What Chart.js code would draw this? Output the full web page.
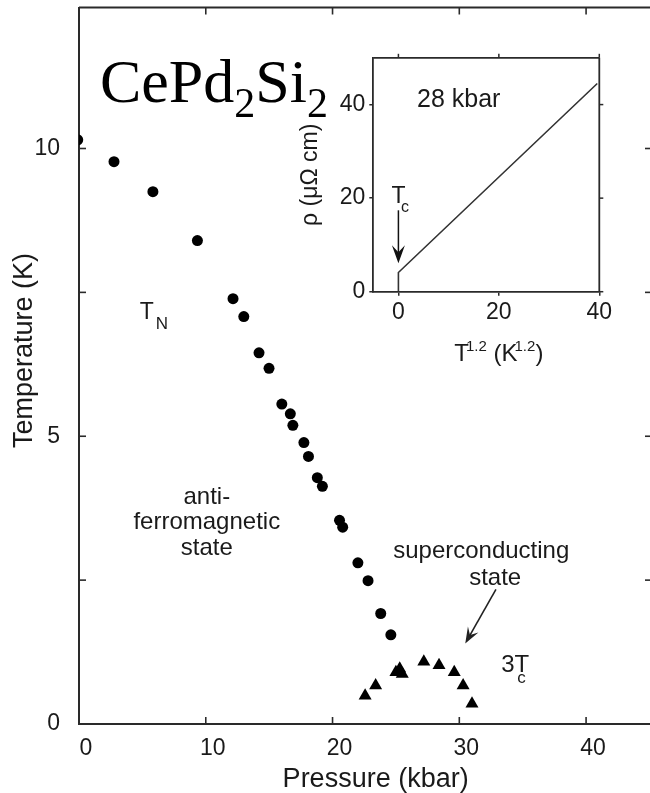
<!DOCTYPE html>
<html>
<head>
<meta charset="utf-8">
<script src="https://cdn.jsdelivr.net/npm/chart.js@4.4.0/dist/chart.umd.min.js"></script>
<style>
  html, body { margin: 0; padding: 0; background: #fff; overflow: hidden; }
  #wrap { position: relative; width: 650px; height: 793px; overflow: hidden; }
  #main { position: absolute; left: 0; top: 0; }
  #inset { position: absolute; left: 290px; top: 40px; }
</style>
</head>
<body>
<div id="wrap">
  <canvas id="main" width="660" height="793"></canvas>
  <canvas id="inset" width="330" height="340"></canvas>
</div>
<script>
// T_N (antiferromagnetic transition), circles
const pressureN = [-0.1, 2.76, 5.83, 9.34, 12.15, 13.0, 14.2, 14.99, 16.0, 16.67, 16.87, 17.74,
                   18.1, 18.8, 19.2, 20.55, 20.8, 22.0, 22.8, 23.8, 24.6];
const tempN = [10.15, 9.77, 9.25, 8.40, 7.39, 7.08, 6.45, 6.18, 5.56, 5.39, 5.19, 4.89,
               4.65, 4.28, 4.13, 3.54, 3.42, 2.80, 2.49, 1.92, 1.55];
// 3 x Tc (superconducting), triangles
const pressureSC = [22.57, 23.4, 25.0, 25.3, 25.5, 27.2, 28.4, 29.6, 30.3, 31.0];
const temp3Tc = [0.49, 0.67, 0.90, 0.96, 0.87, 1.08, 1.02, 0.90, 0.67, 0.35];
// inset: resistivity vs T^1.2 at 28 kbar
const insetT12 = [0, 0, 39.6];
const insetRho = [0, 4.1, 44.5];

const xTicks = [0, 10, 20, 30, 40];
const xTickLabels = ['0', '10', '20', '30', '40'];
const yTicks = [0, 2.5, 5, 7.5, 10];
const yTickLabels = ['0', '', '5', '', '10'];
const insetXTicks = [0, 20, 40];
const insetYTicks = [0, 20, 40];

const INK = '#1a1a1a';
const AXIS = '#2a2a2a';
const sans = '"Liberation Sans", Arial, Helvetica, sans-serif';
const serif = '"Liberation Serif", "Times New Roman", serif';

function line(ctx, x1, y1, x2, y2) {
  ctx.beginPath(); ctx.moveTo(x1, y1); ctx.lineTo(x2, y2); ctx.stroke();
}

// draw a row of text pieces (for sub/superscripts)
function runs(ctx, x, y, parts, align) {
  let total = 0;
  parts.forEach(p => { ctx.font = p.size + 'px ' + (p.family || sans); total += ctx.measureText(p.t).width + (p.kern || 0); });
  let cx = align === 'center' ? x - total / 2 : x;
  ctx.textBaseline = 'alphabetic';
  ctx.textAlign = 'left';
  parts.forEach(p => {
    ctx.font = p.size + 'px ' + (p.family || sans);
    cx += (p.kern || 0);
    ctx.fillText(p.t, cx, y + (p.dy || 0));
    cx += ctx.measureText(p.t).width;
  });
}

function arrow(ctx, x1, y1, x2, y2, len, half) {
  const a = Math.atan2(y2 - y1, x2 - x1);
  line(ctx, x1, y1, x2 - Math.cos(a) * len * 0.6, y2 - Math.sin(a) * len * 0.6);
  ctx.save();
  ctx.translate(x2, y2); ctx.rotate(a);
  ctx.beginPath();
  ctx.moveTo(0, 0); ctx.lineTo(-len, -half); ctx.lineTo(-len * 0.6, 0); ctx.lineTo(-len, half);
  ctx.closePath(); ctx.fill();
  ctx.restore();
}

const mainDecor = {
  id: 'mainDecor',
  afterDraw(chart) {
    const { ctx, chartArea: a, scales: { x, y } } = chart;
    const px = v => x.getPixelForValue(v), py = v => y.getPixelForValue(v);
    ctx.save();
    ctx.strokeStyle = AXIS;
    ctx.lineWidth = 2;
    line(ctx, a.left, a.top, a.right, a.top);
    line(ctx, a.right, a.top, a.right, a.bottom);
    ctx.lineWidth = 1.6;
    xTicks.forEach(v => {
      if (v === 0) return;
      line(ctx, px(v), a.bottom, px(v), a.bottom - 7);
      line(ctx, px(v), a.top, px(v), a.top + 7);
    });
    yTicks.forEach(v => {
      if (v === 0) return;
      line(ctx, a.left, py(v), a.left + 7, py(v));
      line(ctx, a.right, py(v), a.right - 7, py(v));
    });

    // axis titles
    ctx.fillStyle = INK;
    ctx.font = '27px ' + sans;
    ctx.textAlign = 'center';
    ctx.textBaseline = 'alphabetic';
    ctx.fillText('Pressure (kbar)', px(23.4), a.bottom + 63);
    ctx.save();
    ctx.translate(a.left - 54, py(6.49));
    ctx.rotate(-Math.PI / 2);
    ctx.textBaseline = 'middle';
    ctx.fillText('Temperature (K)', 0, 0);
    ctx.restore();

    ctx.fillStyle = '#000';
    runs(ctx, px(1.65), py(10.81), [
      { t: 'CePd', size: 62, family: serif },
      { t: '2', size: 42, family: serif, dy: 15 },
      { t: 'Si', size: 62, family: serif },
      { t: '2', size: 42, family: serif, dy: 15 }
    ]);

    ctx.fillStyle = INK;
    runs(ctx, px(4.8), py(7.04), [{ t: 'T', size: 23 }]);
    runs(ctx, px(6.06), py(6.87), [{ t: 'N', size: 17 }]);

    ctx.font = '24px ' + sans;
    ctx.textAlign = 'center';
    ctx.textBaseline = 'alphabetic';
    ctx.fillText('anti-', px(10.08), py(3.83));
    ctx.fillText('ferromagnetic', px(10.08), py(3.38));
    ctx.fillText('state', px(10.08), py(2.93));
    ctx.fillText('superconducting', px(31.73), py(2.89));
    ctx.fillText('state', px(32.83), py(2.41));

    runs(ctx, px(33.31), py(0.90), [{ t: '3T', size: 24 }]);
    runs(ctx, px(34.57), py(0.72), [{ t: 'c', size: 17 }]);

    ctx.strokeStyle = '#222';
    ctx.fillStyle = '#222';
    ctx.lineWidth = 1.6;
    arrow(ctx, px(32.89), py(2.34), px(30.47), py(1.40), 16, 6);
    ctx.restore();
  }
};

new Chart(document.getElementById('main'), {
  type: 'scatter',
  data: {
    datasets: [
      {
        data: pressureN.map((p, i) => ({ x: p, y: tempN[i] })),
        pointStyle: 'circle', pointRadius: 5.5, backgroundColor: '#000', borderWidth: 0
      },
      {
        data: pressureSC.map((p, i) => ({ x: p, y: temp3Tc[i] })),
        pointStyle: 'triangle', pointRadius: 7.5, backgroundColor: '#000', borderWidth: 0
      }
    ]
  },
  options: {
    responsive: false,
    animation: false,
    events: [],
    layout: { padding: { top: 7, right: 8, left: 0, bottom: 0 } },
    plugins: { legend: { display: false }, tooltip: { enabled: false } },
    scales: {
      x: {
        type: 'linear', min: 0, max: 45.2,
        afterBuildTicks: s => { s.ticks = xTicks.map(v => ({ value: v })); },
        afterFit: s => { s.height = 69; s.paddingLeft = 0; s.paddingRight = 0; },
        grid: { display: false },
        border: { color: AXIS, width: 2 },
        ticks: {
          callback: (v, i) => xTickLabels[i], color: INK, padding: 3, labelOffset: 7,
          maxRotation: 0, autoSkip: false, font: { family: sans, size: 23 }
        }
      },
      y: {
        type: 'linear', min: 0, max: 12.45,
        afterBuildTicks: s => { s.ticks = yTicks.map(v => ({ value: v })); },
        afterFit: s => { s.width = 79; s.paddingTop = 0; s.paddingBottom = 0; },
        grid: { display: false },
        border: { color: AXIS, width: 2 },
        ticks: {
          callback: (v, i) => yTickLabels[i], color: INK, padding: 11, autoSkip: false,
          font: { family: sans, size: 23 }
        }
      }
    }
  },
  plugins: [mainDecor]
});

const insetDecor = {
  id: 'insetDecor',
  afterDraw(chart) {
    const { ctx, chartArea: a, scales: { x, y } } = chart;
    const px = v => x.getPixelForValue(v), py = v => y.getPixelForValue(v);
    ctx.save();
    ctx.strokeStyle = AXIS;
    ctx.lineWidth = 1.8;
    line(ctx, a.left, a.top, a.right, a.top);
    line(ctx, a.right, a.top, a.right, a.bottom);
    ctx.lineWidth = 1.5;
    insetXTicks.forEach(v => line(ctx, px(v), a.top, px(v), a.top - 4));
    insetYTicks.forEach(v => line(ctx, a.right, py(v), a.right + 4, py(v)));

    ctx.fillStyle = INK;
    runs(ctx, px(3.7), py(39.4), [{ t: '28 kbar', size: 25 }]);
    runs(ctx, px(0), py(18.9), [{ t: 'T', size: 23 }], 'center');
    runs(ctx, px(0.5), py(17.0), [{ t: 'c', size: 16 }]);
    runs(ctx, px(20), py(-14.9), [
      { t: 'T', size: 24 },
      { t: '1.2', size: 15, dy: -10, kern: -3 },
      { t: ' (K', size: 24 },
      { t: '1.2', size: 15, dy: -10, kern: -3 },
      { t: ')', size: 24 }
    ], 'center');

    ctx.strokeStyle = '#111';
    ctx.fillStyle = '#111';
    ctx.lineWidth = 1.5;
    arrow(ctx, px(0), py(17.4), px(0), py(6.1), 18, 6.5);
    ctx.restore();
  }
};

new Chart(document.getElementById('inset'), {
  type: 'scatter',
  data: {
    datasets: [{
      data: insetT12.map((t, i) => ({ x: t, y: insetRho[i] })),
      showLine: true, borderColor: '#333', borderWidth: 1.6, pointRadius: 0, fill: false
    }]
  },
  options: {
    responsive: false,
    animation: false,
    events: [],
    layout: { padding: { top: 16.7, right: 20.7, left: 0, bottom: 0 } },
    plugins: { legend: { display: false }, tooltip: { enabled: false } },
    scales: {
      x: {
        type: 'linear', min: -5, max: 40,
        afterBuildTicks: s => { s.ticks = insetXTicks.map(v => ({ value: v })); },
        afterFit: s => { s.height = 88.3; },
        grid: { display: true, drawOnChartArea: false, drawTicks: true, tickLength: 4, color: AXIS, lineWidth: 1.5 },
        border: { color: AXIS, width: 1.8 },
        ticks: { color: INK, padding: 3, maxRotation: 0, autoSkip: false, font: { family: sans, size: 23 } }
      },
      y: {
        type: 'linear', min: 0, max: 50,
        afterBuildTicks: s => { s.ticks = insetYTicks.map(v => ({ value: v })); },
        afterFit: s => { s.width = 83.3; },
        grid: { display: true, drawOnChartArea: false, drawTicks: true, tickLength: 4, color: AXIS, lineWidth: 1.5 },
        border: { color: AXIS, width: 1.8 },
        ticks: { color: INK, padding: 4, autoSkip: false, font: { family: sans, size: 23 } },
        title: { display: true, text: 'ρ (μΩ cm)', color: INK, padding: { top: 6.6, bottom: 0 }, font: { family: sans, size: 23 } }
      }
    }
  },
  plugins: [insetDecor]
});
</script>
</body>
</html>
